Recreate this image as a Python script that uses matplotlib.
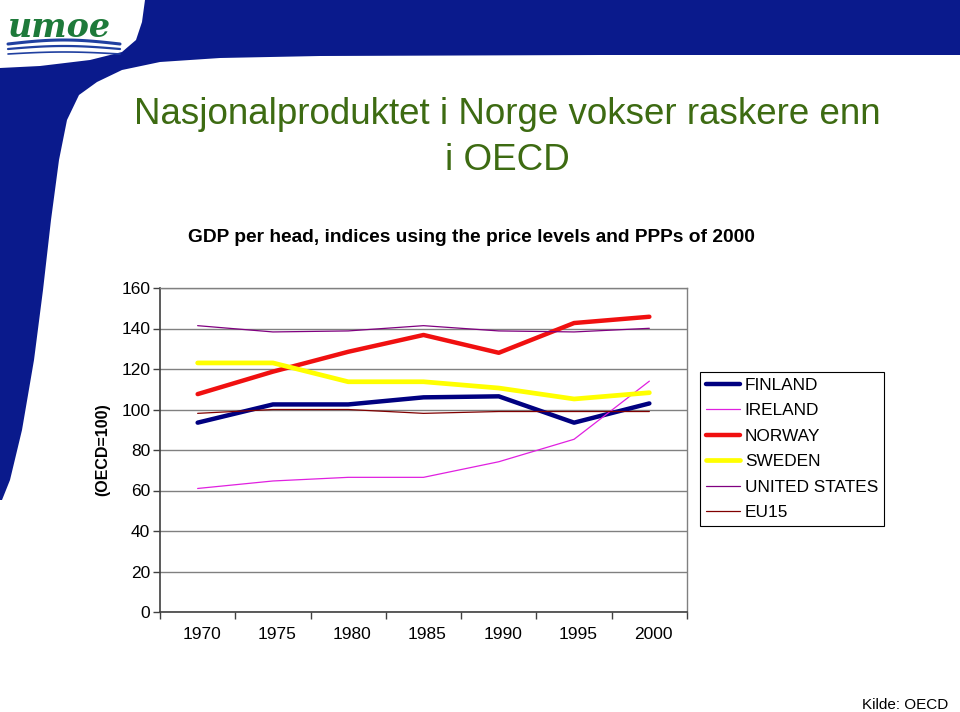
import numpy as np
import matplotlib
matplotlib.use("Agg")
import matplotlib.pyplot as plt
import matplotlib.transforms as mtransforms
from matplotlib.patches import Polygon

plt.rcParams['font.family'] = ['Liberation Sans', 'DejaVu Sans']

# data
years = ['1970', '1975', '1980', '1985', '1990', '1995', '2000']
finland = [93.5, 102.5, 102.5, 106, 106.5, 93.5, 103]
ireland = [61, 64.7, 66.5, 66.5, 74.2, 85.3, 114]
norway = [107.6, 118.7, 128.5, 136.8, 128, 142.7, 145.8]
sweden = [123, 123, 113.7, 113.7, 110.6, 105.2, 108.3]
usa = [141.4, 138.3, 138.8, 141.4, 138.8, 138.3, 140.1]
eu15 = [98.1, 100, 100, 98.1, 99, 99, 99]

series = [
    ('FINLAND', finland, '#000080', 3.2),
    ('IRELAND', ireland, '#e020e0', 0.9),
    ('NORWAY', norway, '#f01010', 3.2),
    ('SWEDEN', sweden, '#ffff00', 3.4),
    ('UNITED STATES', usa, '#800080', 0.9),
    ('EU15', eu15, '#800000', 0.9),
]

fig = plt.figure(figsize=(9.6, 7.12), dpi=100)

# background decoration in pixel coordinates
bg = fig.add_axes([0, 0, 1, 1], zorder=0)
bg.set_xlim(0, 960)
bg.set_ylim(712, 0)
bg.axis('off')
navy = '#0a1a8c'
shape = [(145, 0), (960, 0), (960, 55), (600, 55), (320, 56), (220, 58), (160, 62),
         (122, 70), (97, 82), (79, 95), (67, 120), (59, 160), (51, 220), (43, 290),
         (34, 360), (22, 430), (10, 480), (2, 500), (0, 500), (0, 68), (40, 66),
         (90, 60), (122, 52), (136, 40), (142, 22)]
bg.add_patch(Polygon(shape, closed=True, facecolor=navy, edgecolor='none'))
bg.text(8, 37, 'umoe', fontsize=24, fontfamily='DejaVu Serif', fontweight='bold',
        fontstyle='italic', color='#1e7a3a', ha='left', va='baseline')
wx = np.linspace(8, 120, 60)
for off, lw in [(0, 2.2), (5, 1.6), (10, 1.2)]:
    wy = 44 + off - 4 * np.sin((wx - 8) / 112 * np.pi) * (1 - off / 20)
    bg.plot(wx, wy, color='#2040a0', lw=lw, solid_capstyle='round')

green = '#3d6b12'
bg.text(507, 124, 'Nasjonalproduktet i Norge vokser raskere enn', fontsize=26.5,
        color=green, ha='center', va='baseline')
bg.text(507, 170, 'i OECD', fontsize=26.5, color=green, ha='center', va='baseline')
bg.text(471, 242, 'GDP per head, indices using the price levels and PPPs of 2000',
        fontsize=13.8, fontweight='bold', ha='center', va='baseline')
bg.text(948, 709, 'Kilde: OECD', fontsize=11, ha='right', va='baseline')

# main chart
ax = fig.add_axes([160 / 960, 1 - 612 / 712, 527 / 960, 324 / 712], zorder=1)
ax.patch.set_alpha(0)
x = np.arange(len(years))
for name, vals, col, lw in series:
    ax.plot(x, vals, color=col, lw=lw, label=name, solid_capstyle='round')

ax.set_xlim(-0.5, len(years) - 0.5)
ax.set_ylim(0, 160)
ax.set_yticks(np.arange(0, 161, 20))
ax.yaxis.grid(True, color='#808080', lw=1.0)
ax.set_axisbelow(True)
ax.set_xticks(x)
ax.set_xticklabels(years)
ax.set_xticks(np.arange(-0.5, len(years)), minor=True)
ax.tick_params(axis='x', which='major', length=0, pad=11, labelsize=12.5)
ax.tick_params(axis='x', which='minor', length=5, width=1, color='#404040', direction='out')
ax.tick_params(axis='y', length=5, width=1, color='#404040', pad=2, labelsize=12.5)
shift = mtransforms.ScaledTranslation(4 / 100, 0, fig.dpi_scale_trans)
for lab in ax.get_xticklabels():
    lab.set_transform(lab.get_transform() + shift)
for s in ['left', 'bottom']:
    ax.spines[s].set_color('#404040')
    ax.spines[s].set_linewidth(1.2)
for s in ['top', 'right']:
    ax.spines[s].set_color('#808080')
    ax.spines[s].set_linewidth(1.0)

fig.text(103 / 960, 1 - 450 / 712, '(OECD=100)', rotation=90, fontsize=11.5,
         fontweight='bold', ha='center', va='center')

leg = ax.legend(loc='upper left', bbox_to_anchor=(700 / 960, 1 - 372 / 712),
                bbox_transform=fig.transFigure, fontsize=12.4, frameon=True,
                fancybox=False, edgecolor='black', framealpha=1,
                handlelength=2.0, handletextpad=0.25, labelspacing=0.6,
                borderpad=0.35, borderaxespad=0)
leg.get_frame().set_linewidth(0.8)

fig.savefig('out.png', dpi=100)
